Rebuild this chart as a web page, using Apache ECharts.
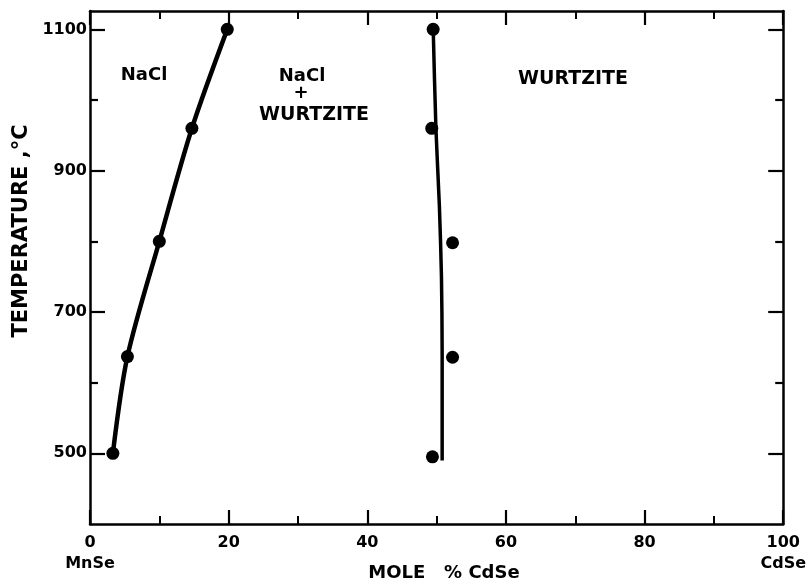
<!DOCTYPE html>
<html>
<head>
<meta charset="utf-8">
<script src="https://cdn.jsdelivr.net/npm/echarts@6/dist/echarts.min.js"></script>
<style>
html,body{margin:0;padding:0;background:#fff;}
#c{width:809px;height:585px;}
</style>
</head>
<body>
<div id="c"></div>
<script>
// ---- data ----
const xTicks = [0, 20, 40, 60, 80, 100];
const yMajorTicks = [500, 700, 900, 1100];
const yMinorTicks = [600, 800, 1000];

// measured points, NaCl-phase boundary (mole % CdSe, temperature °C)
const naclPtsX = [3.3, 5.4, 10.0, 14.7, 19.8];
const naclPtsT = [500, 637, 800, 960, 1100];
// measured points, wurtzite-phase boundary
const wurtPtsX = [49.4, 52.3, 52.3, 49.3, 49.5];
const wurtPtsT = [495, 636, 798, 960, 1100];

// drawn boundary curves
const naclCurveX = [3.3, 5.4, 10.0, 14.7, 19.8];
const naclCurveT = [500, 637, 800, 960, 1100];
const wurtCurveX = [50.8, 50.8, 50.7, 50.4, 49.9, 49.5];
const wurtCurveT = [490, 640, 750, 850, 960, 1104];

const zip = (a, b) => a.map((v, i) => [v, b[i]]);

const FONT = 'DejaVu Sans';
const BLACK = '#000';

const chart = echarts.init(document.getElementById('c'), null, {renderer: 'canvas'});

function xAx(pos, showLabel) {
  return {
    type: 'value', position: pos, min: 0, max: 100, interval: 20,
    axisLine: {show: true, onZero: false, lineStyle: {color: BLACK, width: 2.5}},
    axisTick: {show: true, inside: true, length: 14, lineStyle: {color: BLACK, width: 2.2}},
    minorTick: {show: true, splitNumber: 2, length: 8, lineStyle: {color: BLACK, width: 2}},
    splitLine: {show: false},
    minorSplitLine: {show: false},
    axisLabel: showLabel ? {
      show: true, margin: 8, color: BLACK,
      customValues: xTicks,
      formatter: v => v === 0 ? '{n|0}\n{s|MnSe}' : (v === 100 ? '{n|100}\n{s|CdSe}' : '{n|' + v + '}'),
      rich: {
        n: {fontFamily: FONT, fontWeight: 'bold', fontSize: 16, lineHeight: 21, color: BLACK},
        s: {fontFamily: FONT, fontWeight: 'bold', fontSize: 16, lineHeight: 21, color: BLACK}
      }
    } : {show: false}
  };
}
function yAx(pos, ticks, len, showLabel, showLine) {
  return {
    type: 'value', position: pos, min: 400, max: 1126,
    axisLine: {show: showLine, onZero: false, lineStyle: {color: BLACK, width: 2.5}},
    axisTick: {show: true, inside: true, length: len, customValues: ticks, lineStyle: {color: BLACK, width: 2.2}},
    splitLine: {show: false},
    axisLabel: showLabel ? {
      show: true, margin: 3, color: BLACK, customValues: ticks,
      formatter: v => String(v),
      fontFamily: FONT, fontWeight: 'bold', fontSize: 16
    } : {show: false}
  };
}

const textStyle = (t, x, y, size) => ({type: 'text',
  style: {text: t, x: x, y: y, font: 'bold ' + size + 'px "DejaVu Sans"', fill: BLACK, align: 'center', verticalAlign: 'middle'}});

const option = {
  backgroundColor: '#fff',
  animation: false,
  grid: {left: 90, right: 24, top: 11, bottom: 61, containLabel: false},
  xAxis: [xAx('bottom', true), xAx('top', false)],
  yAxis: [
    yAx('left', yMajorTicks, 15, true, true),
    yAx('left', yMinorTicks, 8, false, false),
    yAx('right', yMajorTicks, 15, false, true),
    yAx('right', yMinorTicks, 8, false, false)
  ],
  series: [
    {type: 'line', xAxisIndex: 0, yAxisIndex: 0, data: zip(naclCurveX, naclCurveT),
     smooth: 0.3, showSymbol: false, symbol: 'none', lineStyle: {color: BLACK, width: 4.5}, z: 2},
    {type: 'line', xAxisIndex: 0, yAxisIndex: 0, data: zip(wurtCurveX, wurtCurveT),
     smooth: 0.25, showSymbol: false, symbol: 'none', lineStyle: {color: BLACK, width: 3.5}, z: 2},
    {type: 'scatter', xAxisIndex: 0, yAxisIndex: 0, data: zip(naclPtsX, naclPtsT),
     symbol: 'circle', symbolSize: 13, itemStyle: {color: BLACK, opacity: 1}, z: 3},
    {type: 'scatter', xAxisIndex: 0, yAxisIndex: 0, data: zip(wurtPtsX, wurtPtsT),
     symbol: 'circle', symbolSize: 13, itemStyle: {color: BLACK, opacity: 1}, z: 3}
  ],
  graphic: [
    {type: 'text', x: 22, y: 231, rotation: Math.PI / 2,
     style: {text: 'TEMPERATURE ,°C', x: 0, y: 0, font: 'bold 21px "DejaVu Sans"', fill: BLACK, align: 'center', verticalAlign: 'middle'}},
    textStyle('MOLE   % CdSe', 444, 573, 18),
    textStyle('NaCl', 144, 75, 18),
    textStyle('NaCl', 302, 76, 18),
    textStyle('+', 301, 93, 18),
    textStyle('WURTZITE', 314, 115, 19),
    textStyle('WURTZITE', 573, 79, 19)
  ]
};
chart.setOption(option);
</script>
</body>
</html>
